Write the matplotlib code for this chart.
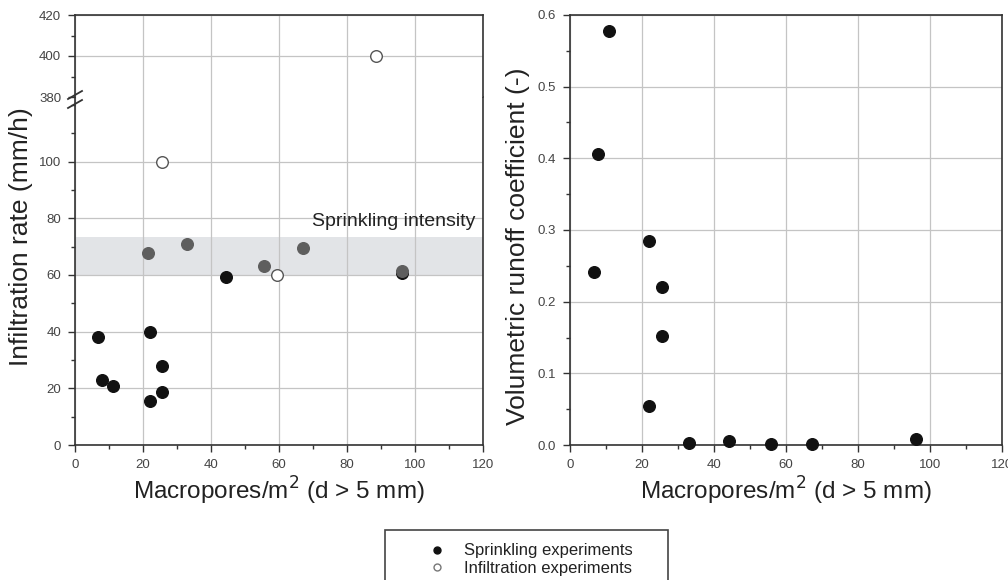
import numpy as np
import matplotlib.pyplot as plt
from matplotlib.patches import Rectangle
from matplotlib.lines import Line2D
from matplotlib.ticker import MultipleLocator

plt.rcParams['font.family'] = ['Liberation Sans', 'DejaVu Sans']

# ── data ──────────────────────────────────────────────────────────────────────
# sprinkling experiments, measured below sprinkling intensity (black)
spr_x = [6.7, 7.9, 11.1, 22.0, 22.0, 25.7, 25.7, 44.4, 96.1]
spr_y = [38.2, 22.9, 20.8, 40.0, 15.7, 27.9, 18.6, 59.4, 60.8]
# sprinkling experiments, within sprinkling intensity (grey)
spr_band_x = [21.4, 33.0, 55.6, 67.0, 96.1]
spr_band_y = [67.8, 71.1, 63.1, 69.5, 61.5]
# infiltration experiments (open)
inf_x = [25.7, 59.3, 88.5]
inf_y = [100.0, 59.9, 400.0]

band_lo, band_hi = 60.0, 73.3

# runoff coefficient
roff_x = [10.9, 7.9, 6.6, 22.0, 25.6, 25.6, 22.0, 33.0, 44.3, 55.7, 67.1, 96.1]
roff_y = [0.577, 0.406, 0.241, 0.285, 0.221, 0.152, 0.055, 0.003, 0.005,
          0.001, 0.001, 0.009]

xlabel = "Macropores/m$^2$ (d > 5 mm)"

# ── style ─────────────────────────────────────────────────────────────────────
W, H = 1008, 580
spine_c = "#333333"
grid_c = "#c4c4c4"
tick_c = "#444444"
lab_c = "#222222"
ms = 70


def style(ax):
    for s in ax.spines.values():
        s.set_color(spine_c)
        s.set_linewidth(1.2)
    ax.tick_params(direction="out", length=5, width=1, colors=spine_c,
                   labelcolor=tick_c, labelsize=9.5, pad=5)
    ax.tick_params(which="minor", direction="out", length=3, width=1,
                   colors=spine_c)
    ax.grid(True, color=grid_c, lw=0.9)
    ax.set_axisbelow(True)


def fax(x0, y0, x1, y1):
    # pixel box -> figure axes
    return fig.add_axes([x0 / W, 1 - y1 / H, (x1 - x0) / W, (y1 - y0) / H])


fig = plt.figure(figsize=(W / 100, H / 100), dpi=100)

# ── left: broken y axis ───────────────────────────────────────────────────────
ax_lo = fax(75, 97, 483, 445)
ax_hi = fax(75, 15, 483, 97)

for ax in (ax_lo, ax_hi):
    style(ax)
    ax.set_xlim(0, 120)
    ax.xaxis.set_major_locator(MultipleLocator(20))
    ax.xaxis.set_minor_locator(MultipleLocator(10))

ax_lo.set_ylim(0, 122.8)
ax_lo.set_yticks([0, 20, 40, 60, 80, 100])
ax_lo.yaxis.set_minor_locator(MultipleLocator(10))
ax_lo.spines["top"].set_visible(False)

ax_hi.set_ylim(380, 420)
ax_hi.set_yticks([380, 400, 420])
ax_hi.yaxis.set_minor_locator(MultipleLocator(10))
ax_hi.spines["bottom"].set_visible(False)
ax_hi.tick_params(axis="x", which="both", bottom=False, labelbottom=False)
ax_hi.yaxis.get_gridlines()[0].set_visible(False)

ax_lo.axhspan(band_lo, band_hi, color="#e2e4e7", zorder=0.2, lw=0)
ax_lo.text(117.8, 78.9, "Sprinkling intensity", ha="right", va="center",
           fontsize=14, color=lab_c)

for ax in (ax_lo, ax_hi):
    ax.scatter(spr_x, spr_y, s=ms, c="#111111", zorder=3)
    ax.scatter(spr_band_x, spr_band_y, s=ms, c="#5e5e5e", zorder=3.5)
    ax.scatter(inf_x, inf_y, s=ms, facecolors="white", edgecolors="#555555",
               linewidths=1, zorder=4)

ax_lo.set_ylabel("Infiltration rate (mm/h)", fontsize=19, color=lab_c)
ax_lo.yaxis.set_label_coords(-0.103, 0.598)
ax_lo.set_xlabel(xlabel, fontsize=17.5, color=lab_c, labelpad=3)

# break marks on left spine
kw = dict(transform=fig.transFigure, color=spine_c, lw=1.3, clip_on=False)
for yb in (95, 104):
    fig.add_artist(Line2D([(75 - 7) / W, (75 + 7) / W],
                          [1 - (yb + 4) / H, 1 - (yb - 4) / H], **kw))

# ── right: runoff coefficient ────────────────────────────────────────────────
ax_r = fax(570, 15, 1002, 445)
style(ax_r)
ax_r.set_xlim(0, 120)
ax_r.set_ylim(0, 0.6)
ax_r.xaxis.set_major_locator(MultipleLocator(20))
ax_r.xaxis.set_minor_locator(MultipleLocator(10))
ax_r.yaxis.set_major_locator(MultipleLocator(0.1))
ax_r.yaxis.set_minor_locator(MultipleLocator(0.05))
ax_r.scatter(roff_x, roff_y, s=ms, c="#111111", zorder=3, clip_on=False)
ax_r.set_ylabel("Volumetric runoff coefficient (-)", fontsize=19, color=lab_c)
ax_r.yaxis.set_label_coords(-0.093, 0.463)
ax_r.set_xlabel(xlabel, fontsize=17.5, color=lab_c, labelpad=3)

# ── legend ────────────────────────────────────────────────────────────────────
fig.add_artist(Rectangle((385 / W, 1 - 600 / H), 283 / W, 70 / H,
                         transform=fig.transFigure, fill=False,
                         ec="#444444", lw=1.2))
handles = [
    Line2D([], [], ls="none", marker="o", ms=5, mfc="#111111", mec="#111111"),
    Line2D([], [], ls="none", marker="o", ms=5, mfc="white", mec="#777777"),
]
fig.legend(handles, ["Sprinkling experiments", "Infiltration experiments"],
           loc="upper left", bbox_to_anchor=(419 / W, 1 - 535 / H),
           frameon=False, fontsize=12, handlelength=1.2, handletextpad=1.0,
           labelspacing=0.15, borderpad=0, labelcolor=lab_c)

fig.savefig("out.png", dpi=100)
